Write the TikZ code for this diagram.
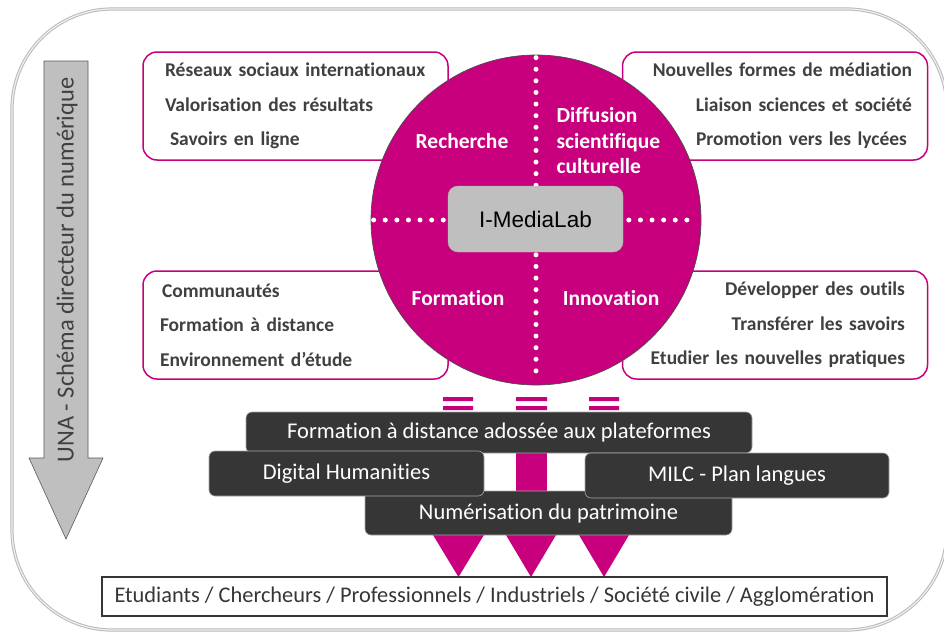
\documentclass[tikz,border=0pt]{standalone}
\usepackage{fontspec}
\setmainfont{Carlito}[Ligatures=NoCommon]
\newfontfamily\arialfont{Liberation Sans}
\definecolor{una}{RGB}{200,0,126}
\definecolor{boxgray}{RGB}{54,54,54}
\definecolor{txtgray}{RGB}{64,64,64}

\begin{document}
\begin{tikzpicture}[x=1pt,y=-1pt,
  pbox/.style={draw=una,line width=1.5pt,fill=white,rounded corners=14pt,
    minimum width=305pt,minimum height=108pt,inner sep=0pt,
    text=txtgray,font=\fontsize{19.5}{34.5}\selectfont\bfseries},
  clab/.style={text=white,font=\fontsize{21.5}{25.5}\selectfont\bfseries},
  dbox/.style={fill=boxgray,draw=gray!70,line width=.6pt,rounded corners=6pt,
    text=white,inner sep=0pt,font=\fontsize{22.5}{24}\selectfont},
  dots/.style={white,line width=5pt,line cap=round,dash pattern=on 0pt off 11.6pt}]
\useasboundingbox (0,0) rectangle (944,632);
\draw[gray!55,line width=1pt,double=gray!12,double distance=1.2pt,rounded corners=100pt] (12,9) rectangle (947,630);

\draw[fill=gray!50,draw=gray!70!black,line width=.6pt] (44,61) -- (88,61) -- (88,458) -- (103,458) -- (66,539) -- (29,458) -- (44,458) -- cycle;
\node[rotate=90,text=txtgray,font=\fontsize{24.5}{26}\selectfont] (una) at (67,270) {UNA - Schéma directeur du numérique};

\node[pbox,text width=261pt,align=left] (rech) at (295.5,106) {Réseaux sociaux internationaux\\Valorisation des résultats\\\hspace*{5pt}Savoirs en ligne};
\node[pbox,text width=274pt,align=right] (diff) at (775,106) {Nouvelles formes de médiation\\Liaison sciences et société\hspace*{6pt}\\Promotion vers les lycées\hspace*{5pt}};
\node[pbox,text width=271pt,align=left] (form) at (295.5,325) {\hspace*{2pt}Communautés\\Formation à distance\\Environnement d’étude};
\node[pbox,text width=260pt,align=right] (inno) at (775,325) {Développer des outils\\Transférer les savoirs\hspace*{2pt}\\Etudier les nouvelles pratiques};

\node[circle,fill=una,draw=gray!60!black,line width=.7pt,minimum size=330pt] (lab) at (536,220) {};
\draw[dots] ([yshift=-3pt]lab.north) -- ([yshift=3pt]lab.south);
\draw[dots] ([xshift=3pt]lab.west) -- ([xshift=-3pt]lab.east);
\node[fill=gray!50,draw=gray!60,rounded corners=10pt,minimum width=175pt,minimum height=66pt,
  font=\arialfont\fontsize{22.5}{24}\selectfont] (iml) at (535.5,219) {I-MediaLab};

\node[clab] (lrech) at (462,141) {Recherche};
\node[clab,align=left,anchor=west] (ldiff) at (553,141) {Diffusion\\scientifique\\culturelle};
\node[clab] (lform) at (458,298) {Formation};
\node[clab] (linno) at (611,298) {Innovation};

\fill[una] (443,397) rectangle (473,401) (443,406) rectangle (473,410);
\fill[una] (516,397) rectangle (547,401) (516,406) rectangle (547,410);
\fill[una] (589,397) rectangle (619,401) (589,406) rectangle (619,410);
\fill[una] (516,440) rectangle (547,492);
\fill[una] (430,530) -- (487,530) -- (458.5,577) -- cycle;
\fill[una] (503,530) -- (559,530) -- (531,577) -- cycle;
\fill[una] (576,530) -- (632,530) -- (604,577) -- cycle;

\node[dbox,minimum width=506pt,minimum height=41pt] (fad) at (499,432.5) {Formation à distance adossée aux plateformes};
\node[dbox,minimum width=367pt,minimum height=44pt] (num) at (548.5,513) {Numérisation du patrimoine};
\node[dbox,minimum width=275pt,minimum height=45pt] (dh) at (346.5,473.5) {Digital Humanities};
\node[dbox,minimum width=304pt,minimum height=45pt] (milc) at (737,475.5) {MILC - Plan langues};

\node[draw=boxgray,line width=1.6pt,fill=white,minimum width=785pt,minimum height=39pt,
  text=boxgray,font=\fontsize{22.4}{24}\selectfont] (pub) at (494.5,596.5) {Etudiants / Chercheurs / Professionnels / Industriels / Société civile / Agglomération};
\end{tikzpicture}
\end{document}
